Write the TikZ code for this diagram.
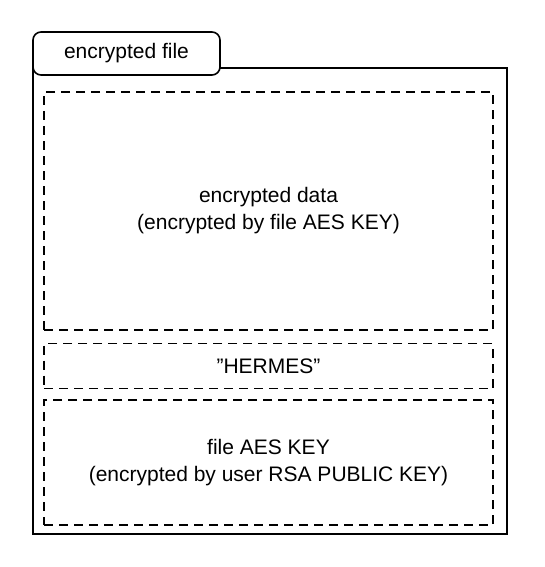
\documentclass[tikz,border=0pt]{standalone}
\usepackage{fontspec}
\setmainfont{Liberation Sans}[Ligatures=ResetAll]
\usetikzlibrary{positioning}
\begin{document}
\begin{tikzpicture}[x=1pt, y=-1pt, node distance=12pt, line width=1.6pt,
    part/.style = {draw, dashed, dash pattern=on 9pt off 6pt, minimum width=449pt, align=center, inner sep=0pt},
    txt/.style = {font=\fontsize{21}{27}\selectfont}]
    \useasboundingbox (0,0) rectangle (544,567);
    \node[draw, minimum width=474pt, minimum height=466pt, inner sep=0pt] (file) at (270,301) {};
    \node[draw, fill=white, rounded corners=8pt, minimum width=187pt, minimum height=43pt, txt] (tab) at (126.5,53.5) {encrypted file};
    \node[part, minimum height=238pt, txt] (data) at (268.5,211) {encrypted data\\(encrypted by file AES KEY)};
    \node[part, minimum height=45pt, txt] (magic) [below=12pt of data] {"HERMES"};
    \node[part, minimum height=125pt, txt] (key) [below=10pt of magic] {file AES KEY\\(encrypted by user RSA PUBLIC KEY)};
\end{tikzpicture}
\end{document}
